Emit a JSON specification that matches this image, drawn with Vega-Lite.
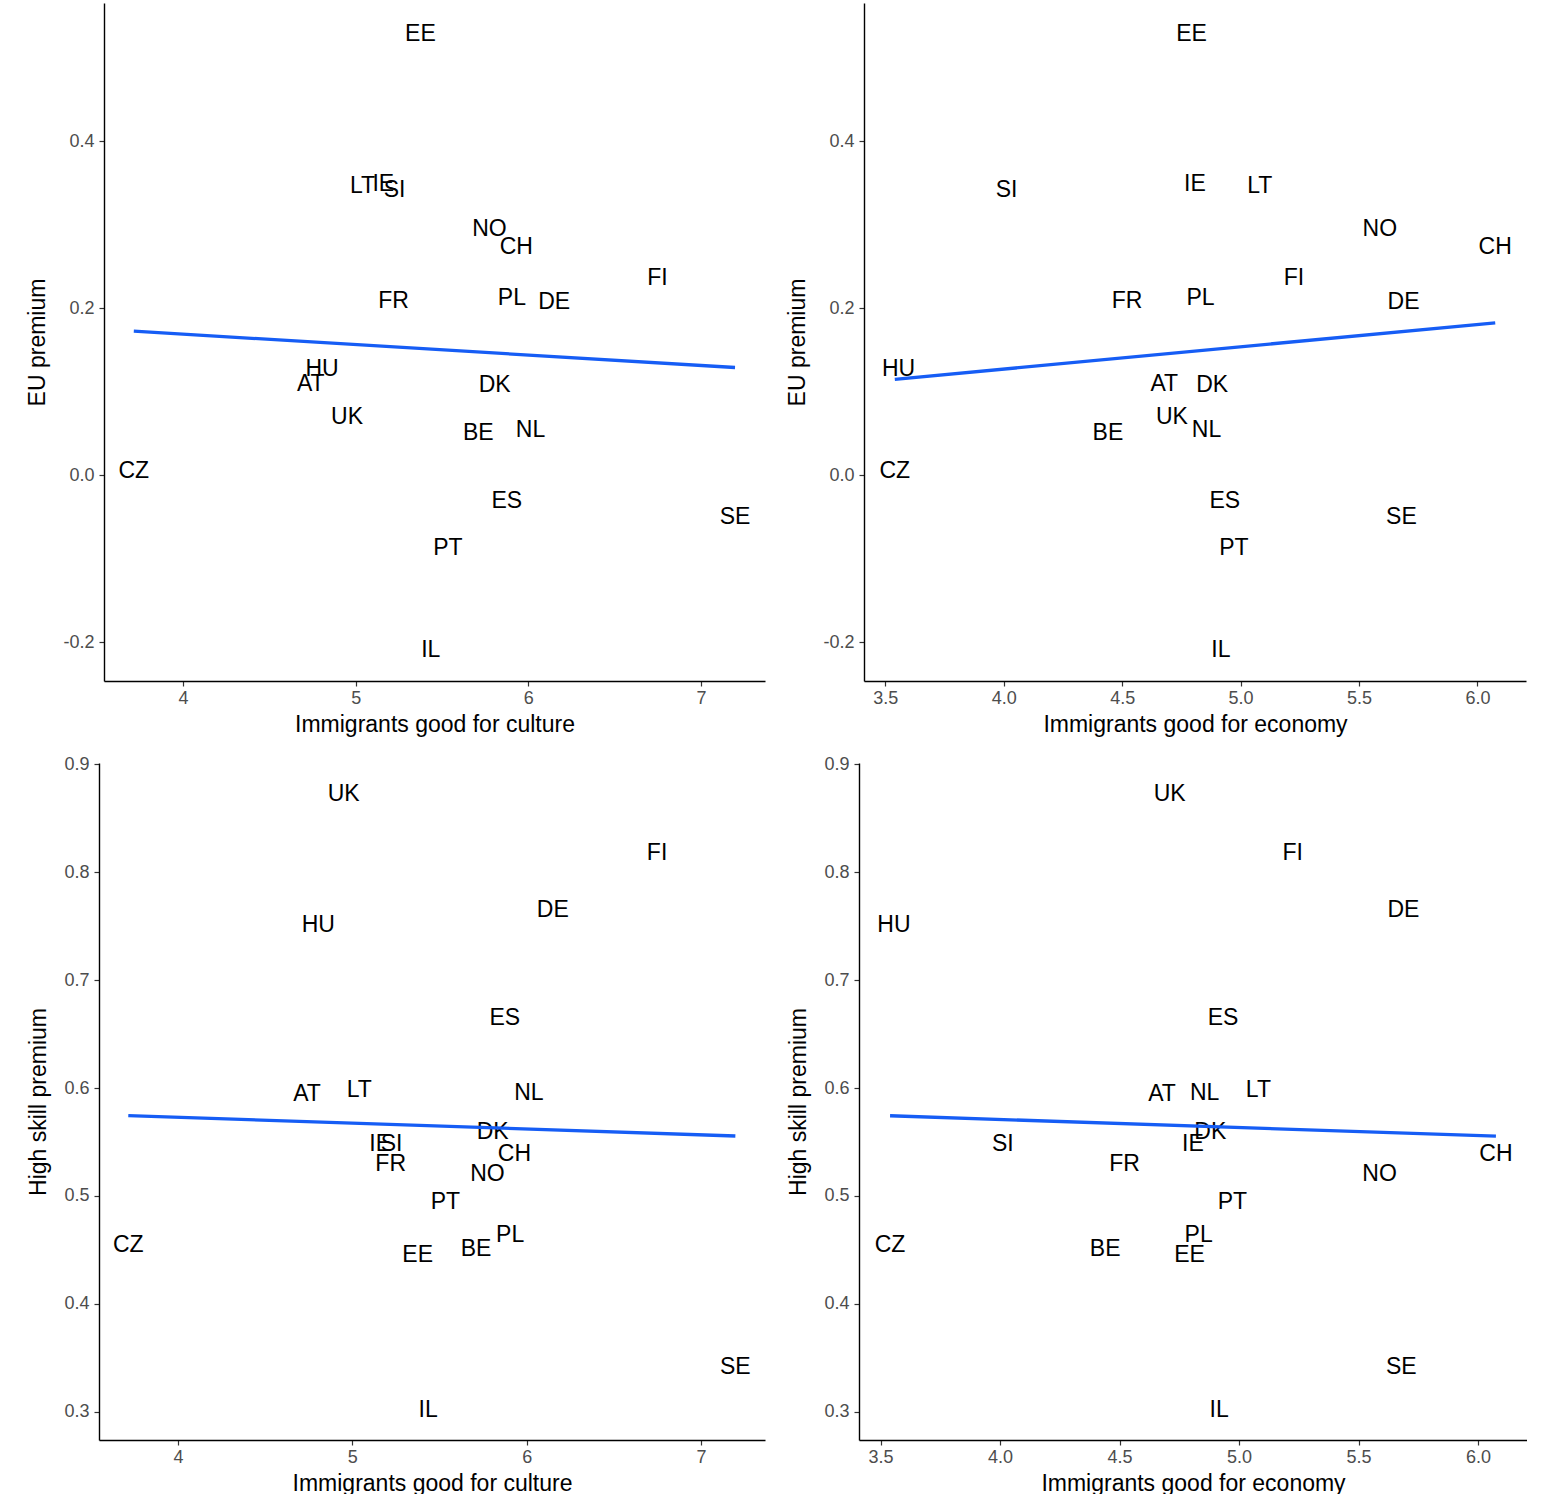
{
  "$schema": "https://vega.github.io/schema/vega-lite/v6.json",
  "background": "white",
  "padding": {"left": 4, "top": 3, "right": 0, "bottom": 0},
  "config": {
    "view": {"stroke": null},
    "font": "Liberation Sans",
    "axis": {
      "grid": false,
      "domainColor": "black",
      "domainWidth": 1.4,
      "tickColor": "#333333",
      "tickWidth": 1.2,
      "tickSize": 5,
      "labelFont": "Liberation Sans",
      "labelFontSize": 18,
      "labelColor": "#4D4D4D",
      "titleFont": "Liberation Sans",
      "titleFontSize": 23,
      "titleFontWeight": "normal",
      "titleColor": "black"
    },
    "axisX": {"labelPadding": 3, "titlePadding": 6, "labelFlush": false},
    "axisY": {"labelPadding": 5, "titlePadding": 13},
    "text": {"font": "Liberation Sans", "fontSize": 23, "color": "black", "dy": 0},
    "line": {"color": "#165DF5", "strokeWidth": 3.3}
  },
  "datasets": {
    "countries": [
      {"country": "AT", "culture": 4.74, "economy": 4.678, "eu": 0.109, "skill": 0.594},
      {"country": "BE", "culture": 5.71, "economy": 4.44, "eu": 0.05, "skill": 0.451},
      {"country": "CH", "culture": 5.93, "economy": 6.075, "eu": 0.273, "skill": 0.539},
      {"country": "CZ", "culture": 3.715, "economy": 3.54, "eu": 0.005, "skill": 0.455},
      {"country": "DE", "culture": 6.15, "economy": 5.688, "eu": 0.207, "skill": 0.765},
      {"country": "DK", "culture": 5.805, "economy": 4.88, "eu": 0.108, "skill": 0.559},
      {"country": "EE", "culture": 5.375, "economy": 4.793, "eu": 0.528, "skill": 0.445},
      {"country": "ES", "culture": 5.875, "economy": 4.933, "eu": -0.031, "skill": 0.665},
      {"country": "FI", "culture": 6.748, "economy": 5.225, "eu": 0.236, "skill": 0.818},
      {"country": "FR", "culture": 5.22, "economy": 4.521, "eu": 0.208, "skill": 0.53},
      {"country": "HU", "culture": 4.805, "economy": 3.556, "eu": 0.127, "skill": 0.751},
      {"country": "IE", "culture": 5.16, "economy": 4.807, "eu": 0.349, "skill": 0.548},
      {"country": "IL", "culture": 5.435, "economy": 4.917, "eu": -0.21, "skill": 0.302},
      {"country": "LT", "culture": 5.04, "economy": 5.081, "eu": 0.346, "skill": 0.598},
      {"country": "NL", "culture": 6.013, "economy": 4.856, "eu": 0.054, "skill": 0.595},
      {"country": "NO", "culture": 5.775, "economy": 5.588, "eu": 0.295, "skill": 0.52},
      {"country": "PL", "culture": 5.905, "economy": 4.831, "eu": 0.212, "skill": 0.464},
      {"country": "PT", "culture": 5.534, "economy": 4.972, "eu": -0.087, "skill": 0.494},
      {"country": "SE", "culture": 7.197, "economy": 5.679, "eu": -0.05, "skill": 0.342},
      {"country": "SI", "culture": 5.225, "economy": 4.012, "eu": 0.341, "skill": 0.548},
      {"country": "UK", "culture": 4.95, "economy": 4.71, "eu": 0.069, "skill": 0.872}
    ],
    "empty": []
  },
  "spacing": 19,
  "vconcat": [
    {
      "spacing": 21,
      "hconcat": [
        {
          "width": 1,
          "height": 1,
          "data": {"name": "empty"},
          "mark": "point",
          "encoding": {}
        },
        {
          "width": 661,
          "height": 678,
          "data": {"name": "countries"},
          "layer": [
            {
              "mark": "text",
              "encoding": {
                "x": {"field": "culture", "type": "quantitative", "scale": {"domain": [3.5425, 7.3707], "nice": false, "zero": false}, "axis": {"values": [4, 5, 6, 7], "format": "d", "title": "Immigrants good for culture"}},
                "y": {"field": "eu", "type": "quantitative", "scale": {"domain": [-0.2467, 0.5653], "nice": false, "zero": false}, "axis": {"values": [-0.2, 0, 0.2, 0.4], "format": ".1f", "labelExpr": "replace(datum.label, '\u2212', '-')", "title": "EU premium"}},
                "text": {"field": "country"}
              }
            },
            {
              "mark": "line",
              "transform": [{"regression": "eu", "on": "culture"}],
              "encoding": {
                "x": {"field": "culture", "type": "quantitative"},
                "y": {"field": "eu", "type": "quantitative"}
              }
            }
          ]
        },
        {
          "width": 662,
          "height": 678,
          "data": {"name": "countries"},
          "layer": [
            {
              "mark": "text",
              "encoding": {
                "x": {"field": "economy", "type": "quantitative", "scale": {"domain": [3.41, 6.205], "nice": false, "zero": false}, "axis": {"values": [3.5, 4, 4.5, 5, 5.5, 6], "format": ".1f", "title": "Immigrants good for economy"}},
                "y": {"field": "eu", "type": "quantitative", "scale": {"domain": [-0.2467, 0.5653], "nice": false, "zero": false}, "axis": {"values": [-0.2, 0, 0.2, 0.4], "format": ".1f", "labelExpr": "replace(datum.label, '\u2212', '-')", "title": "EU premium"}},
                "text": {"field": "country"}
              }
            },
            {
              "mark": "line",
              "transform": [{"regression": "eu", "on": "economy"}],
              "encoding": {
                "x": {"field": "economy", "type": "quantitative"},
                "y": {"field": "eu", "type": "quantitative"}
              }
            }
          ]
        }
      ]
    },
    {
      "spacing": 22,
      "hconcat": [
        {
          "width": 1,
          "height": 1,
          "data": {"name": "empty"},
          "mark": "point",
          "encoding": {}
        },
        {
          "width": 666,
          "height": 677,
          "data": {"name": "countries"},
          "layer": [
            {
              "mark": "text",
              "encoding": {
                "x": {"field": "culture", "type": "quantitative", "scale": {"domain": [3.547, 7.367], "nice": false, "zero": false}, "axis": {"values": [4, 5, 6, 7], "format": "d", "title": "Immigrants good for culture"}},
                "y": {"field": "skill", "type": "quantitative", "scale": {"domain": [0.274, 0.901], "nice": false, "zero": false}, "axis": {"values": [0.3, 0.4, 0.5, 0.6, 0.7, 0.8, 0.9], "format": ".1f", "title": "High skill premium"}},
                "text": {"field": "country"}
              }
            },
            {
              "mark": "line",
              "transform": [{"regression": "skill", "on": "culture"}],
              "encoding": {
                "x": {"field": "culture", "type": "quantitative"},
                "y": {"field": "skill", "type": "quantitative"}
              }
            }
          ]
        },
        {
          "width": 668,
          "height": 677,
          "data": {"name": "countries"},
          "layer": [
            {
              "mark": "text",
              "encoding": {
                "x": {"field": "economy", "type": "quantitative", "scale": {"domain": [3.41, 6.205], "nice": false, "zero": false}, "axis": {"values": [3.5, 4, 4.5, 5, 5.5, 6], "format": ".1f", "title": "Immigrants good for economy"}},
                "y": {"field": "skill", "type": "quantitative", "scale": {"domain": [0.274, 0.901], "nice": false, "zero": false}, "axis": {"values": [0.3, 0.4, 0.5, 0.6, 0.7, 0.8, 0.9], "format": ".1f", "title": "High skill premium"}},
                "text": {"field": "country"}
              }
            },
            {
              "mark": "line",
              "transform": [{"regression": "skill", "on": "economy"}],
              "encoding": {
                "x": {"field": "economy", "type": "quantitative"},
                "y": {"field": "skill", "type": "quantitative"}
              }
            }
          ]
        }
      ]
    }
  ]
}
